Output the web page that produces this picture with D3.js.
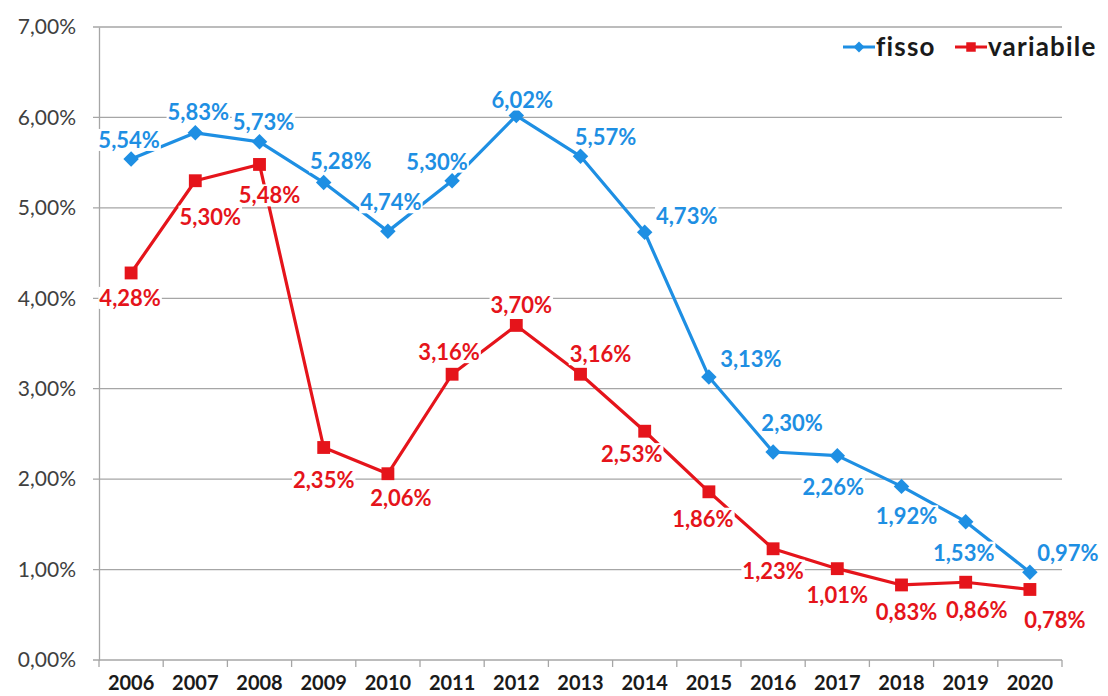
<!DOCTYPE html>
<html>
<head>
<meta charset="utf-8">
<script src="https://cdn.jsdelivr.net/npm/d3@7"></script>
<style>
  body { margin: 0; background: #fff; }
  svg { font-family: Lato, "Open Sans", sans-serif; }
</style>
</head>
<body>
<div id="chart"></div>
<script>
// Data
const years = ['2006', '2007', '2008', '2009', '2010', '2011', '2012', '2013',
  '2014', '2015', '2016', '2017', '2018', '2019', '2020'];
const fisso = [5.54, 5.83, 5.73, 5.28, 4.74, 5.30, 6.02, 5.57, 4.73, 3.13, 2.30, 2.26, 1.92, 1.53, 0.97];
const variabile = [4.28, 5.30, 5.48, 2.35, 2.06, 3.16, 3.70, 3.16, 2.53, 1.86, 1.23, 1.01, 0.83, 0.86, 0.78];
const yTicks = [0, 1, 2, 3, 4, 5, 6, 7];

// label offsets from each point (layout only, in px)
const fissoLabelPos = [[-2, -19], [3, -21], [4, -20], [17, -21], [3, -29], [-15, -19], [6, -16], [25, -19],
  [42, -16], [42, -18], [19, -29], [-4, 31], [5, 30], [-2, 31], [38, -19]];
const variabileLabelPos = [[-1, 25], [15, 36], [10, 31], [0, 33], [13, 24], [-3, -22], [5, -20], [20, -20],
  [-13, 23], [-6, 27], [0, 22], [0, 26], [5, 27], [11, 28], [25, 31]];

const config = {
  width: 1108,
  height: 696,
  margin: { top: 27, right: 46, bottom: 36, left: 99 },
  blue: '#1e8fe3',
  red: '#e5141b',
  grid: '#a6a6a6'
};

const width = config.width - config.margin.left - config.margin.right;
const height = config.height - config.margin.top - config.margin.bottom;

const svg = d3.select('#chart').append('svg')
  .attr('width', config.width)
  .attr('height', config.height);

const g = svg.append('g')
  .attr('transform', `translate(${config.margin.left},${config.margin.top})`);

const xScale = d3.scaleBand().domain(years).range([0, width]);
const yScale = d3.scaleLinear().domain([0, 7]).range([height, 0]);
const fmt = v => d3.format('.2f')(v).replace('.', ',') + '%';

// Gridlines
g.append('g')
  .selectAll('line')
  .data(yTicks)
  .join('line')
    .attr('x1', -6)
    .attr('x2', width)
    .attr('y1', d => yScale(d))
    .attr('y2', d => yScale(d))
    .attr('stroke', config.grid)
    .attr('stroke-width', 1.3);

// Y axis
const yAxisG = g.append('g')
  .call(d3.axisLeft(yScale).tickValues(yTicks).tickSize(0).tickPadding(23).tickFormat(fmt));
yAxisG.select('.domain').attr('stroke', config.grid).attr('stroke-width', 1.3);
yAxisG.selectAll('text')
  .attr('font-family', 'Lato, sans-serif')
  .attr('font-size', 21)
  .attr('fill', '#404040');

// X axis
const xAxisG = g.append('g')
  .attr('transform', `translate(0,${height})`)
  .call(d3.axisBottom(xScale).tickSize(0).tickPadding(16));
xAxisG.select('.domain').remove();
xAxisG.selectAll('text')
  .attr('font-family', 'Lato, sans-serif')
  .attr('font-size', 20)
  .attr('font-weight', 'bold')
  .attr('fill', '#1a1a1a');
g.append('g')
  .selectAll('line')
  .data(d3.range(years.length + 1))
  .join('line')
    .attr('x1', i => i * xScale.step())
    .attr('x2', i => i * xScale.step())
    .attr('y1', height)
    .attr('y2', height + 7)
    .attr('stroke', config.grid)
    .attr('stroke-width', 1.3);

const cx = i => xScale(years[i]) + xScale.bandwidth() / 2;

const line = d3.line()
  .x((d, i) => cx(i))
  .y(d => yScale(d));

const series = [
  { key: 'fisso', values: fisso, color: config.blue, pos: fissoLabelPos, diamond: true },
  { key: 'variabile', values: variabile, color: config.red, pos: variabileLabelPos, diamond: false }
];

series.forEach(s => {
  g.append('path')
    .datum(s.values)
    .attr('fill', 'none')
    .attr('stroke', s.color)
    .attr('stroke-width', 3.2)
    .attr('stroke-linejoin', 'round')
    .attr('d', line);
});

series.forEach(s => {
  g.append('g')
    .selectAll('path')
    .data(s.values)
    .join('path')
      .attr('d', d3.symbol().type(d3.symbolSquare).size(s.diamond ? 120 : 165)())
      .attr('transform', (d, i) => `translate(${cx(i)},${yScale(d)})` + (s.diamond ? ' rotate(45)' : ''))
      .attr('fill', s.color);
});

// Data labels with white backgrounds
series.forEach(s => {
  const lg = g.append('g');
  s.values.forEach((v, i) => {
    const [dx, dy] = s.pos[i];
    const item = lg.append('g')
      .attr('transform', `translate(${cx(i) + dx},${yScale(v) + dy})`);
    const rect = item.append('rect').attr('fill', '#fff');
    const text = item.append('text')
      .attr('text-anchor', 'middle')
      .attr('dy', '0.36em')
      .attr('font-size', 22)
      .attr('font-weight', 'bold')
      .attr('fill', s.color)
      .text(fmt(v));
    const bb = text.node().getBBox();
    rect.attr('x', bb.x - 1).attr('y', bb.y + 3)
      .attr('width', bb.width + 2).attr('height', bb.height - 5);
  });
});

// Legend
const legend = svg.append('g').attr('transform', 'translate(843,47)');
const legendItems = [
  { label: 'fisso', color: config.blue, diamond: true, x: 0 },
  { label: 'variabile', color: config.red, diamond: false, x: 112 }
];
legendItems.forEach(d => {
  const item = legend.append('g').attr('transform', `translate(${d.x},0)`);
  item.append('line')
    .attr('x1', 0).attr('x2', 32)
    .attr('stroke', d.color).attr('stroke-width', 3);
  item.append('path')
    .attr('d', d3.symbol().type(d3.symbolSquare).size(d.diamond ? 60 : 90)())
    .attr('transform', `translate(16,0)` + (d.diamond ? ' rotate(45)' : ''))
    .attr('fill', d.color);
  item.append('text')
    .attr('x', 33)
    .attr('dy', '0.36em')
    .attr('font-size', 26)
    .attr('font-weight', 'bold')
    .attr('letter-spacing', 1.2)
    .attr('fill', '#1a1a1a')
    .text(d.label);
});
</script>
</body>
</html>
